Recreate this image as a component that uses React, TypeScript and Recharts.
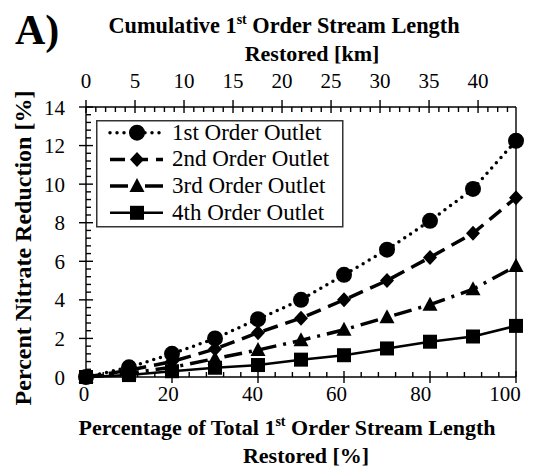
import React from 'react';
import { LineChart, Line, XAxis, YAxis, Legend, Customized } from 'recharts';

// Percentage of total 1st order stream length restored
const pctRestored = [0, 10, 20, 30, 40, 50, 60, 70, 80, 90, 100];
// Percent nitrate reduction at each outlet
const firstOrder = [0, 0.5, 1.2, 2.0, 3.0, 4.0, 5.3, 6.6, 8.1, 9.75, 12.25];
const secondOrder = [0, 0.35, 0.8, 1.45, 2.3, 3.05, 4.0, 5.0, 6.2, 7.45, 9.3];
const thirdOrder = [0, 0.2, 0.5, 0.95, 1.4, 1.9, 2.45, 3.1, 3.75, 4.55, 5.75];
const fourthOrder = [0, 0.1, 0.3, 0.48, 0.62, 0.9, 1.13, 1.48, 1.83, 2.1, 2.65];

const seriesNames = ['1st Order Outlet', '2nd Order Outlet', '3rd Order Outlet', '4th Order Outlet'];

// Axis ticks
const pctMajorTicks = [0, 20, 40, 60, 80, 100];
const pctMinorStep = 4;
const kmMajorTicks = [0, 5, 10, 15, 20, 25, 30, 35, 40];
const kmMinorStep = 1;
const yMajorTicks = [0, 2, 4, 6, 8, 10, 12, 14];
const yMinorStep = 0.4;
const totalKm = 43.87; // total 1st order stream length

const FONT = '"Liberation Serif", "Times New Roman", Times, serif';
const INK = '#000';

const data = pctRestored.map((p, i) => ({
  pct: p,
  km: (p / 100) * totalKm,
  s1: firstOrder[i],
  s2: secondOrder[i],
  s3: thirdOrder[i],
  s4: fourthOrder[i],
}));

const stepTicks = (max: number, step: number) =>
  Array.from({ length: Math.floor(max / step + 1e-6) + 1 }, (_, i) => +(i * step).toFixed(3));

const isMajor = (v: number, majors: number[]) => majors.some((m) => Math.abs(m - v) < 1e-6);

type MarkerKind = 'circle' | 'diamond' | 'triangle' | 'square';

function Marker({ kind, cx, cy }: { kind: MarkerKind; cx: number; cy: number }) {
  if (kind === 'circle') return <circle cx={cx} cy={cy} r={8} fill={INK} />;
  if (kind === 'diamond')
    return <polygon points={`${cx},${cy - 7.5} ${cx + 7},${cy} ${cx},${cy + 7.5} ${cx - 7},${cy}`} fill={INK} />;
  if (kind === 'triangle')
    return <polygon points={`${cx},${cy - 8} ${cx + 7.5},${cy + 6} ${cx - 7.5},${cy + 6}`} fill={INK} />;
  return <rect x={cx - 7} y={cy - 7} width={14} height={14} fill={INK} />;
}

const series = [
  { key: 's1', name: seriesNames[0], marker: 'circle' as MarkerKind, dash: '0 7', width: 3.5, cap: 'round' as const },
  { key: 's2', name: seriesNames[1], marker: 'diamond' as MarkerKind, dash: '15 8', width: 3.5, cap: 'butt' as const },
  { key: 's3', name: seriesNames[2], marker: 'triangle' as MarkerKind, dash: '18 7 3 7', width: 3.5, cap: 'butt' as const },
  { key: 's4', name: seriesNames[3], marker: 'square' as MarkerKind, dash: undefined, width: 2.5, cap: 'butt' as const },
];

function BottomTick(props: any) {
  const { x, y, payload } = props;
  const v = payload.value;
  const major = isMajor(v, pctMajorTicks);
  // labels sit slightly left of their ticks, increasingly so toward the right end
  const labelX = x - 2 - v * 0.09;
  return (
    <g>
      <line x1={x} x2={x} y1={major ? y - 6 : y - 5} y2={major ? y + 6 : y} stroke={INK} strokeWidth={1.4} />
      {major && (
        <text x={labelX} y={y + 24} textAnchor="middle" fontSize={21} fontFamily={FONT} fill={INK}>
          {v}
        </text>
      )}
    </g>
  );
}

function TopTick(props: any) {
  const { x, y, payload } = props;
  const v = payload.value;
  const major = isMajor(v, kmMajorTicks);
  return (
    <g>
      <line x1={x} x2={x} y1={major ? y - 7 : y} y2={major ? y + 6 : y + 5} stroke={INK} strokeWidth={1.4} />
      {major && (
        <text x={x} y={y - 19} textAnchor="middle" fontSize={21} fontFamily={FONT} fill={INK}>
          {v}
        </text>
      )}
    </g>
  );
}

function LeftTick(props: any) {
  const { x, y, payload } = props;
  const v = payload.value;
  const major = isMajor(v, yMajorTicks);
  return (
    <g>
      <line x1={major ? x - 7 : x} x2={major ? x + 7 : x + 5} y1={y} y2={y} stroke={INK} strokeWidth={1.4} />
      {major && (
        <text x={x - 21} y={y + 7.5} textAnchor="end" fontSize={21} fontFamily={FONT} fill={INK}>
          {Math.round(v)}
        </text>
      )}
    </g>
  );
}

function LegendBox() {
  const rowGap = 26.7;
  return (
    <svg width={248} height={108} style={{ display: 'block' }}>
      <rect x={0.75} y={0.75} width={246} height={106} fill="#fff" stroke="#333" strokeWidth={1.5} />
      {series.map((s, i) => {
        const cy = 12.7 + i * rowGap;
        return (
          <g key={s.key}>
            <line
              x1={14}
              x2={67}
              y1={cy}
              y2={cy}
              stroke={INK}
              strokeWidth={s.width}
              strokeDasharray={s.dash}
              strokeLinecap={s.cap}
            />
            <Marker kind={s.marker} cx={41} cy={cy} />
            <text x={76} y={cy + 7} fontSize={23} fontFamily={FONT} fill={INK}>
              {s.name}
            </text>
          </g>
        );
      })}
    </svg>
  );
}

function Titles() {
  return (
    <g fontFamily={FONT} fill={INK}>
      <text x={15} y={44} fontSize={42} fontWeight="bold">
        A)
      </text>
      <text x={284} y={33} textAnchor="middle" fontSize={22.3} fontWeight="bold">
        Cumulative 1
        <tspan fontSize={14} dy={-9}>st</tspan>
        <tspan dy={9}> Order Stream Length</tspan>
      </text>
      <text x={312} y={61} textAnchor="middle" fontSize={22} fontWeight="bold">
        Restored [km]
      </text>
      <text x={287} y={435} textAnchor="middle" fontSize={22} fontWeight="bold">
        Percentage of Total 1
        <tspan fontSize={14} dy={-9}>st</tspan>
        <tspan dy={9}> Order Stream Length</tspan>
      </text>
      <text x={306} y={463} textAnchor="middle" fontSize={22} fontWeight="bold">
        Restored [%]
      </text>
      <text
        transform="translate(31,248) rotate(-90)"
        textAnchor="middle"
        fontSize={24}
        fontWeight="bold"
      >
        Percent Nitrate Reduction [%]
      </text>
    </g>
  );
}

export default function App() {
  return (
    <div style={{ position: 'absolute', left: 0, top: 0, width: 533, height: 474, background: '#fff' }}>
      <LineChart width={533} height={474} data={data} margin={{ top: 0, right: 0, bottom: 0, left: 0 }}>
        <XAxis
          xAxisId="pct"
          dataKey="pct"
          type="number"
          domain={[0, 100]}
          ticks={stepTicks(100, pctMinorStep)}
          interval={0}
          height={97}
          tickSize={0}
          tickMargin={0}
          tickLine={false}
          tick={<BottomTick />}
          axisLine={{ stroke: INK, strokeWidth: 1.4 }}
        />
        <XAxis
          xAxisId="km"
          dataKey="km"
          orientation="top"
          type="number"
          domain={[0, totalKm]}
          allowDataOverflow
          ticks={stepTicks(totalKm, kmMinorStep)}
          interval={0}
          height={107}
          tickSize={0}
          tickMargin={0}
          tickLine={false}
          tick={<TopTick />}
          axisLine={{ stroke: INK, strokeWidth: 1.4 }}
        />
        <YAxis
          yAxisId="pct"
          type="number"
          domain={[0, 14]}
          ticks={stepTicks(14, yMinorStep)}
          interval={0}
          width={86}
          tickSize={0}
          tickMargin={0}
          tickLine={false}
          tick={<LeftTick />}
          axisLine={{ stroke: INK, strokeWidth: 1.4 }}
        />
        <YAxis
          yAxisId="frame"
          orientation="right"
          type="number"
          domain={[0, 14]}
          allowDataOverflow
          width={17}
          tick={false}
          tickLine={false}
          axisLine={{ stroke: INK, strokeWidth: 1.4 }}
        />
        <Legend
          layout="vertical"
          align="center"
          verticalAlign="middle"
          content={() => <LegendBox />}
          wrapperStyle={{ position: 'absolute', left: 96, top: 120, width: 248, height: 108 }}
        />
        {series.map((s) => (
          <Line
            key={s.key}
            xAxisId="pct"
            yAxisId="pct"
            type="linear"
            dataKey={s.key}
            name={s.name}
            stroke={INK}
            strokeWidth={s.width}
            strokeDasharray={s.dash}
            strokeLinecap={s.cap}
            isAnimationActive={false}
            dot={(p: any) => <Marker key={`${s.key}-${p.index}`} kind={s.marker} cx={p.cx} cy={p.cy} />}
            activeDot={false}
          />
        ))}
        <Customized component={Titles} />
      </LineChart>
    </div>
  );
}
